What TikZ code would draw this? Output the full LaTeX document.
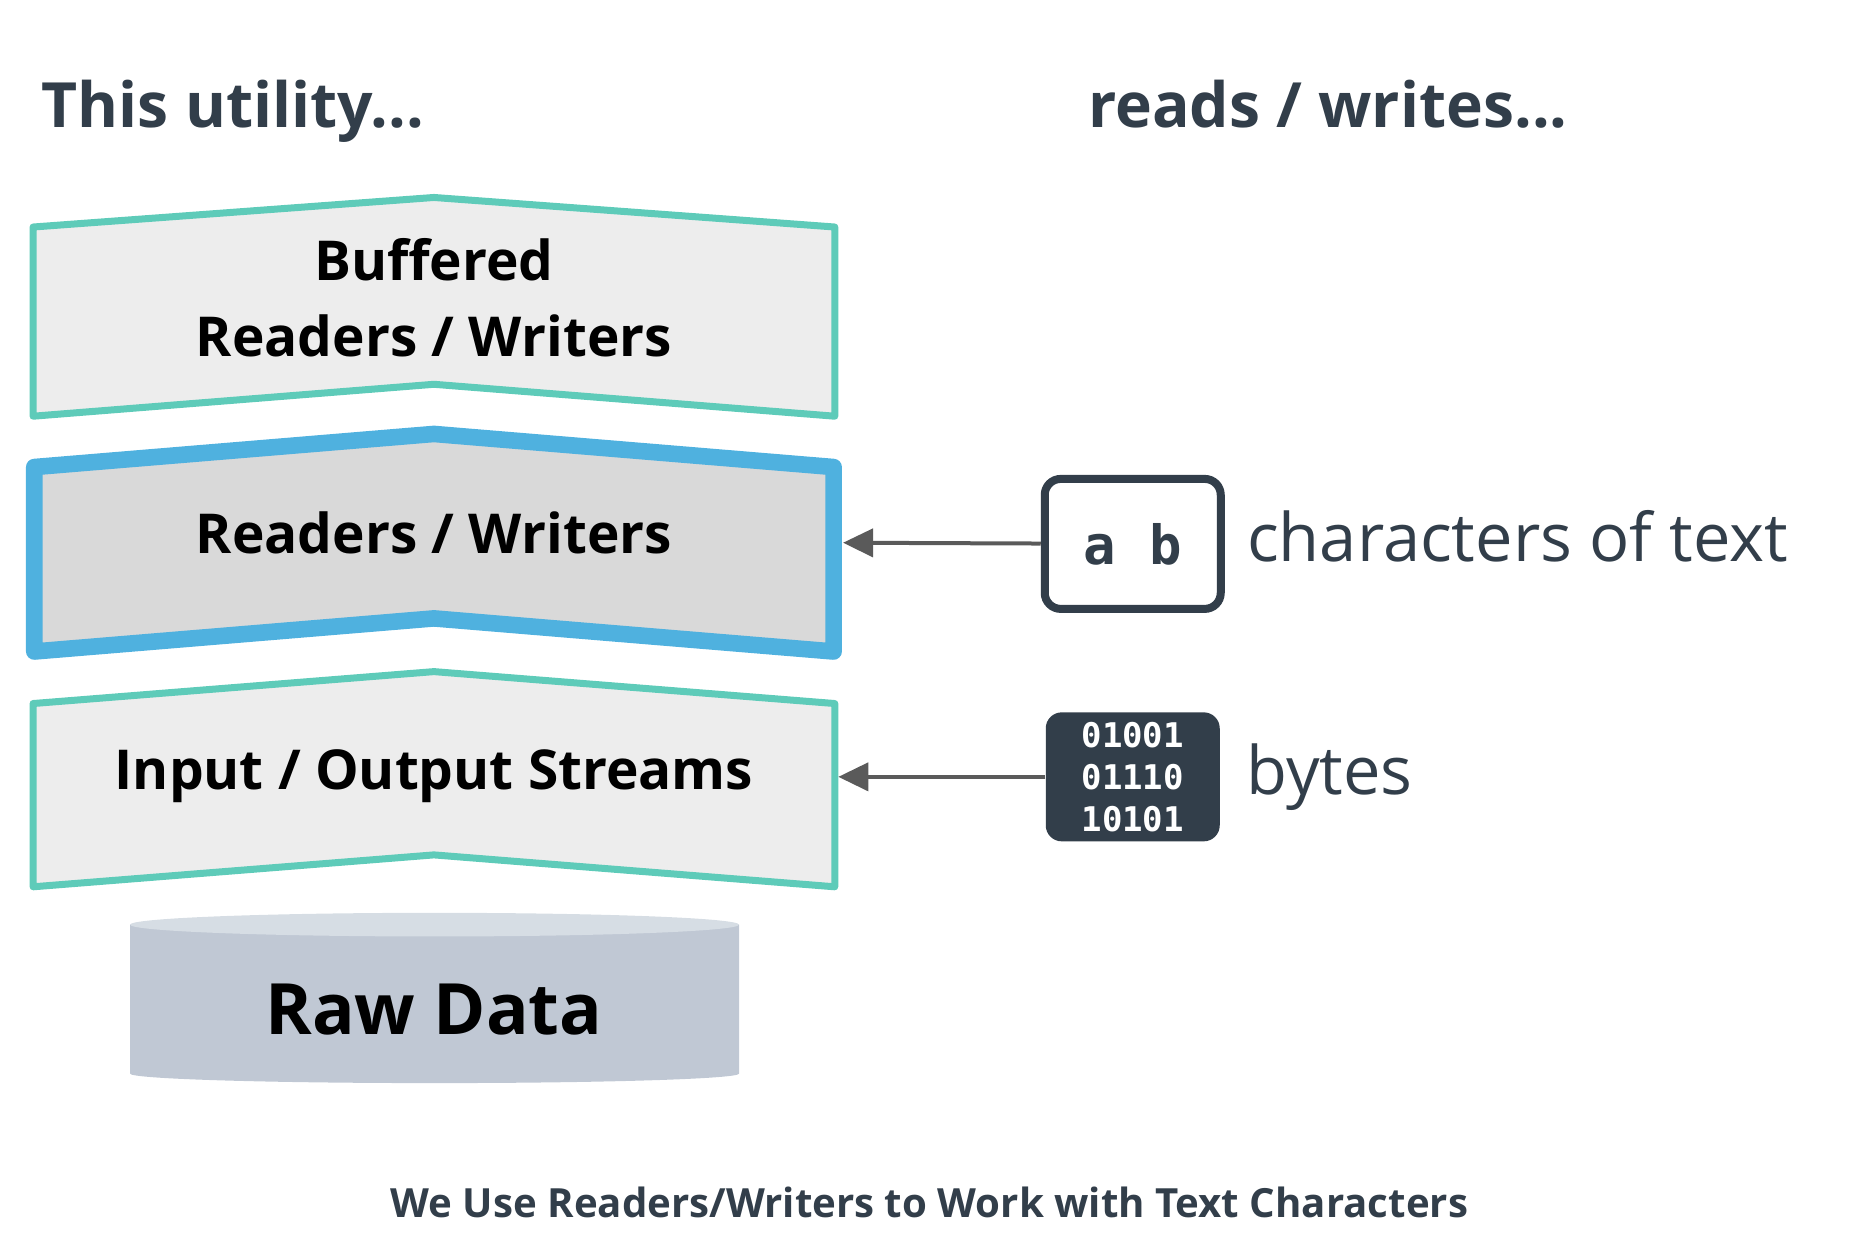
\documentclass[tikz,border=0pt]{standalone}
\usepackage{fontspec}
\setmainfont{Open Sans}
\newfontfamily\monofont{DejaVu Sans Mono}
\usepackage{tikz}
\usetikzlibrary{arrows.meta}
\usetikzlibrary{positioning}

\definecolor{tealline}{HTML}{5ECBB9}
\definecolor{blueline}{HTML}{4FB1DF}
\definecolor{lightfill}{HTML}{EDEDED}
\definecolor{midfill}{HTML}{D9D9D9}
\definecolor{slate}{HTML}{323E4A}
\definecolor{arrowgray}{HTML}{5A5A5A}
\definecolor{drumside}{HTML}{C0C8D4}
\definecolor{drumtop}{HTML}{D6DDE4}

\begin{document}
\begin{tikzpicture}[x=0.5912pt,y=-0.5912pt,
  layer/.style={draw=tealline,line width=3.5pt,fill=lightfill,line join=round},
  boxtext/.style={font=\bfseries\fontsize{27.5}{37.8}\selectfont,text=black,align=center,inner sep=0pt},
  header/.style={font=\bfseries\fontsize{31.2}{38}\selectfont,text=slate,inner sep=0pt},
  sidetext/.style={font=\fontsize{33.4}{40}\selectfont,text=slate,inner sep=0pt},
  feed/.style={draw=arrowgray,line width=2pt,-{Triangle[length=15pt,width=14pt]}}]
\useasboundingbox (0,0) rectangle (1568,1054);

\node[header,anchor=base west] (util) at (35,108) {This utility...};
\node[header,anchor=base west] (rwhead) at (920,108) {reads / writes...};

% the three layers
\draw[layer] (28,192) -- (367,167) -- (706,192) -- (706,352) -- (367,325) -- (28,352) -- cycle;
\draw[layer,draw=blueline,line width=8.3pt,fill=midfill] (29,395) -- (367,367) -- (705,395) -- (705,551) -- (367,523) -- (29,551) -- cycle;
\draw[layer] (28,595) -- (367,568) -- (706,595) -- (706,750) -- (367,723) -- (28,750) -- cycle;

\node[boxtext] (buf) at (367,252) {Buffered\\Readers / Writers};
\node[boxtext,anchor=base] (rw) at (367,468) {Readers / Writers};
\node[boxtext,anchor=base] (ios) at (367,668) {Input / Output Streams};

% raw data drum
\fill[drumside] (110,782) -- (110,908) arc[start angle=180,end angle=0,x radius=257.5,y radius=8] -- (625,782) -- cycle;
\fill[drumtop] (367.5,782) ellipse[x radius=257.5,y radius=10];
\node[boxtext,anchor=base,font=\bfseries\fontsize{35.4}{40}\selectfont] (raw) at (367,875) {Raw Data};

% what goes in
\node[draw=slate,line width=4pt,rounded corners=8pt,fill=white,minimum width=88pt,minimum height=65pt,inner sep=0pt,
  text=slate,font=\monofont\bfseries\fontsize{27}{27}\selectfont] (ab) at (958,460) {a b};
\node[fill=slate,rounded corners=8pt,minimum width=87pt,minimum height=64.5pt,inner sep=0pt,align=center,
  text=white,font=\monofont\bfseries\fontsize{17}{21}\selectfont] (bin) at (958,657) {01001\\01110\\10101};
\node[sidetext,right=11pt of ab,yshift=4pt] (chars) {characters of text};
\node[sidetext,right=13pt of bin] (bytes) {bytes};

\coordinate (rwedge) at (713,459);
\coordinate (iosedge) at (709,657);
\draw[feed] (ab) -- (rwedge);
\draw[feed] (bin) -- (iosedge);

\node[font=\bfseries\fontsize{20.1}{25}\selectfont,text=slate,anchor=base] (caption) at (786,1030) {We Use Readers/Writers to Work with Text Characters};
\end{tikzpicture}
\end{document}
